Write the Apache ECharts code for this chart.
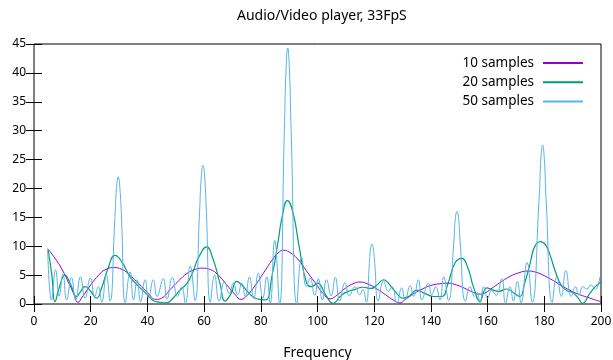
<!DOCTYPE html>
<html>
<head>
<meta charset="utf-8">
<script src="https://cdn.jsdelivr.net/npm/echarts@6/dist/echarts.min.js"></script>
<style>html,body{margin:0;padding:0;background:#fff}#c{width:613px;height:360px}</style>
</head>
<body>
<div id="c"></div>
<script>
var seriesNames = ['10 samples', '20 samples', '50 samples'];
var xTicks = [0, 20, 40, 60, 80, 100, 120, 140, 160, 180, 200];
var yTicks = [0, 5, 10, 15, 20, 25, 30, 35, 40, 45];

var s10x = [5,8,10,12,14,15.5,17,20,23,25,28,31,34,37,40,43,45,48,51,54,57,59.5,62,65,68,71,73,75,78,81,84,86.5,88,90,93,96,99,102,104.5,107,110,113,115,118,121,124,127,129,131,134,137,140,143,146,149,152,155,157,159,162,165,168,171,174,177,180,183,186,189,192,195,198,200];
var s10y = [9.5,7.5,5.9,3.9,1.8,0.3,1.2,3.3,5.1,5.9,6.3,6.0,4.9,3.5,2.0,0.8,1.0,2.5,4.0,5.3,6.0,6.2,6.0,5.0,3.3,1.6,0.8,1.4,3.2,5.4,7.6,9.0,9.3,9.0,7.8,5.8,3.8,1.8,0.9,1.6,2.8,3.6,3.8,3.4,2.6,1.6,0.6,0.2,0.8,1.8,2.6,3.2,3.5,3.6,3.3,2.7,2.0,1.7,1.9,2.9,3.9,4.8,5.4,5.7,5.5,4.9,4.1,3.2,2.4,1.7,1.2,0.7,0.4];

var s20x = [5,6.3,7.4,9,10.9,13,15,16.5,18,20,22,24,26,28.6,31,33.9,37,40,42,44.5,46.8,49,51.5,54,56,58,60.9,63,65.6,67.4,69.5,71.5,73.5,76,78.5,81.5,84,86,87.5,89.4,91.5,93.5,96.2,98,100,103,105.5,108,110.3,113,116,119,121,123.3,125,127,130.3,132.5,135,138,141,143.8,146,148.5,150.9,153,155,157.3,159.7,162,164,166.7,169,171.4,173,175,176.5,178.6,180.5,182,184,186,188,190,192,193.5,196,198,200];
var s20y = [9.3,5.0,0.4,3.0,5.0,3.3,1.3,2.2,3.0,2.2,1.0,3.0,6.0,8.4,7.3,4.7,3.0,1.6,0.6,0.3,0.2,1.0,2.4,3.6,5.5,8.0,9.9,8.0,3.6,0.5,1.8,3.9,3.2,1.8,0.9,0.7,5.0,10.5,15.0,17.9,15.5,10.0,3.6,3.0,3.6,1.5,0.1,1.3,2.1,2.5,2.9,2.7,3.3,4.2,3.6,2.4,1.0,1.4,2.4,1.8,1.3,1.3,3.5,7.1,7.9,6.3,3.0,0.5,2.8,2.4,2.2,2.6,2.0,1.3,3.5,7.0,9.8,10.8,10.2,8.5,5.5,3.2,2.3,2.0,1.0,0.1,1.8,3.0,3.8];

var s50x = [4.8,6.2,7.6,8.9,10.2,11.5,13.2,14.7,16.4,18,19.9,21.4,22.7,23.9,25.5,26.8,28.5,29.1,29.7,30.3,30.9,32.2,33.9,35.1,36.4,37.6,39.2,40.4,42.1,43.4,45.6,46.9,48.8,50.6,52.1,53.4,55.1,56.8,58.4,59,59.6,60.2,60.8,62.2,63.7,65.3,67.2,68.9,70.3,71.8,73.3,74.5,76,77.5,79.1,80.7,82.1,83.3,84.9,86.6,88.3,88.9,89.5,90.1,90.7,92.7,94.4,96.1,97.4,99,100.3,101.7,103.2,104.8,106.3,107.8,109.7,111.2,113.2,114.9,116,117.2,118.3,118.7,119.2,119.7,120.2,121.4,123.3,125,126.3,128,129.7,130.9,132.7,133.9,135.6,136.8,139.1,140.3,141.7,143.2,144.5,146.2,148.1,148.6,149.2,149.8,150.3,152.2,153.8,155.4,156.3,157.3,158.6,160,161.4,163,165,166.3,167.9,169.1,170.5,171.8,173.9,175.7,178.2,178.8,179.4,180,180.6,182.8,184.4,186,187.6,189.5,191,192.2,193.6,195,196.5,198,199.6];
var s50y = [9.6,0.7,5.9,1.4,5.2,0.7,4.6,0.7,4.7,1.0,4.5,1.3,3.0,0.3,5.0,0.5,14.5,20.0,22.0,20.0,14.5,0.2,5.6,0.7,4.2,0.4,4.2,1.0,4.2,1.3,4.4,0.8,4.6,1.3,3.0,0.2,6.6,0.6,16.0,22.0,24.0,22.0,16.0,0.3,5.0,0.5,3.9,1.8,3.6,1.6,3.6,1.3,4.7,1.0,5.3,1.0,4.7,0.1,11.0,0.0,30.0,40.5,44.3,40.5,30.0,0.0,8.0,3.0,4.5,1.5,4.4,0.7,4.2,1.4,4.6,0.5,3.7,1.4,3.0,1.6,2.5,0.3,7.0,9.5,10.4,9.5,7.0,0.5,4.0,2.2,3.0,0.1,2.8,0.7,3.2,1.3,4.2,0.7,3.6,1.6,3.0,0.7,4.7,0.6,10.8,14.7,16.0,14.7,10.8,0.5,3.0,1.3,2.0,0.1,3.0,1.0,2.4,1.5,4.4,0.2,3.0,0.5,3.9,0.2,7.2,0.3,18.5,25.2,27.5,25.2,18.5,0.3,4.7,1.3,5.8,1.3,3.0,1.5,3.0,2.6,3.3,2.5,4.7];

function zip(xs, ys) { return xs.map(function (x, i) { return [x, ys[i]]; }); }

var font = '"Noto Sans", sans-serif';
var chart = echarts.init(document.getElementById('c'), null, { renderer: 'canvas' });

function axisBase(pos, min, max, interval, showLabel) {
  return {
    type: 'value', position: pos, min: min, max: max, interval: interval,
    axisLine: { show: false },
    axisTick: { show: true, inside: true, length: 8, lineStyle: { color: '#000', width: 1 } },
    axisLabel: { show: showLabel, color: '#000', fontFamily: font, fontSize: 12 },
    splitLine: { show: false }
  };
}

var xMain = axisBase('bottom', 0, 200, 20, true);
xMain.axisLabel.margin = 12;
xMain.name = 'Frequency';
xMain.nameLocation = 'middle';
xMain.nameGap = 42;
xMain.nameTextStyle = { color: '#000', fontFamily: font, fontSize: 14 };
var xTop = axisBase('top', 0, 200, 20, false);
var yMain = axisBase('left', 0, 45, 5, true);
yMain.axisLabel.margin = 8;
var yRight = axisBase('right', 0, 45, 5, false);

var colors = ['#9400d3', '#009e73', '#56b4e9'];
var lineIcon = 'path://M0,0 L40,0 L40,2 L0,2 Z';

chart.setOption({
  animation: false,
  title: {
    text: 'Audio/Video player, 33FpS', left: 232, top: 4,
    textStyle: { color: '#000', fontFamily: font, fontSize: 14, fontWeight: 'normal' }
  },
  legend: {
    orient: 'vertical', right: 30, top: 56, align: 'right', padding: 0,
    itemWidth: 40, itemHeight: 2, itemGap: 5.3,
    textStyle: { color: '#000', fontFamily: font, fontSize: 13.5, padding: [0, 4, 0, 0] },
    data: [
      { name: seriesNames[0], icon: lineIcon },
      { name: seriesNames[1], icon: lineIcon },
      { name: seriesNames[2], icon: lineIcon }
    ]
  },
  grid: { left: 34, right: 12, top: 44, bottom: 56, show: true, borderColor: '#000', borderWidth: 1, containLabel: false, outerBoundsMode: 'none' },
  xAxis: [xMain, xTop],
  yAxis: [yMain, yRight],
  series: [
    { name: seriesNames[0], type: 'line', data: zip(s10x, s10y), smooth: true, showSymbol: false, symbol: 'none', lineStyle: { color: colors[0], width: 1 }, itemStyle: { color: colors[0] } },
    { name: seriesNames[1], type: 'line', data: zip(s20x, s20y), smooth: true, showSymbol: false, symbol: 'none', lineStyle: { color: colors[1], width: 1.2 }, itemStyle: { color: colors[1] } },
    { name: seriesNames[2], type: 'line', data: zip(s50x, s50y), smooth: true, showSymbol: false, symbol: 'none', lineStyle: { color: colors[2], width: 1 }, itemStyle: { color: colors[2] } }
  ]
});
</script>
</body>
</html>
